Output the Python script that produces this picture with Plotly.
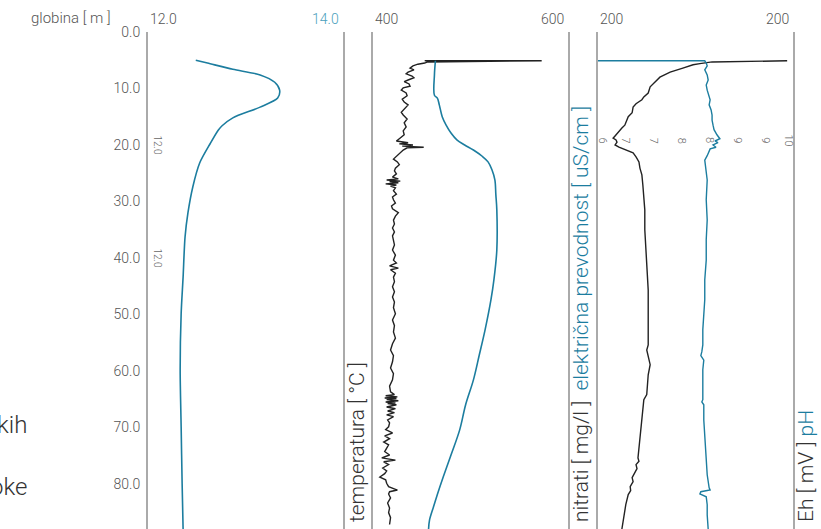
import numpy as np
import plotly.graph_objects as go

# ---------------- data ----------------
DEPTH_TICKS = [0, 10, 20, 30, 40, 50, 60, 70, 80]
DEPTH_RANGE = [88, 0]

# temperature profile [°C]
TEMP_RANGE = [12.0, 14.0]
TEMP_LABELS = ["12.0", "14.0"]
temp_depth = [5.0, 5.5, 6.6, 7.6, 8.9, 10.3, 11.7, 13.3, 15.2, 16.6, 17.4, 19.7, 23.2,
              27.4, 32.0, 36.3, 43.4, 49.9, 59.8, 69.9, 80.0, 88.0]
temp_value = [12.49, 12.61, 12.87, 13.15, 13.30, 13.35, 13.33, 13.15, 12.87, 12.76, 12.72,
              12.64, 12.53, 12.46, 12.41, 12.38, 12.36, 12.34, 12.33, 12.34, 12.35, 12.36]

# nitrate [mg/l] and conductivity [uS/cm]
MID_RANGE = [400, 600]
MID_LABELS = ["400", "600"]
nitrate_depth = [5.1, 5.0, 5.2, 5.1, 5.3, 5.5, 5.7, 6.0, 6.4, 6.7, 7.1, 7.4, 7.8, 8.1,
                 8.5, 8.8, 9.2, 9.6, 9.9, 10.3, 10.8, 11.3, 11.9, 12.4, 12.9, 13.5,
                 14.2, 14.7, 15.4, 16.1, 16.8, 17.5, 18.2, 18.9, 19.3, 19.6, 19.8,
                 20.0, 20.2, 20.4, 20.5, 20.9, 21.4, 22.0, 22.5, 23.0, 23.5, 24.1,
                 24.6, 25.1, 25.7, 26.0, 26.2, 26.4, 26.5, 26.7, 26.9, 27.1, 27.3,
                 27.6, 28.1, 28.7, 29.2, 29.7, 30.3, 30.8, 31.3, 32.0, 32.6, 33.3,
                 34.0, 34.7, 35.4, 36.1, 36.8, 37.7, 38.6, 39.5, 40.4, 40.9, 41.4,
                 41.8, 42.1, 42.7, 43.4, 44.2, 45.1, 46.0, 46.9, 47.8, 48.8, 49.9,
                 51.0, 52.0, 53.1, 54.2, 55.2, 56.3, 57.3, 58.4, 59.5, 60.5, 61.6,
                 62.7, 63.7, 64.2, 64.4, 64.6, 64.8, 64.9, 65.1, 65.3, 65.5, 65.7,
                 65.8, 66.0, 66.4, 66.7, 67.1, 67.4, 67.8, 68.1, 68.7, 69.2, 69.9,
                 70.4, 71.0, 71.5, 72.0, 72.6, 73.1, 73.6, 74.3, 74.9, 75.4, 75.8,
                 76.1, 76.6, 77.2, 77.7, 78.2, 78.8, 79.3, 79.9, 80.5, 81.1, 81.4,
                 81.8, 82.5, 83.4, 84.3, 85.1, 86.0, 87.2, 88.0]
nitrate_value = [453, 571, 458, 573, 456, 453, 446, 441, 438, 442, 436, 434, 440, 442,
                 436, 432, 437, 438, 431, 429, 434, 435, 430, 432, 436, 433,
                 429, 431, 435, 432, 434, 431, 432, 427, 424, 436, 427,
                 441, 430, 452, 435, 431, 428, 424, 421, 425, 427, 423,
                 422, 424, 420, 426, 414, 428, 417, 426, 413, 424, 418,
                 423, 421, 424, 420, 421, 423, 419, 420, 426, 423, 421,
                 422, 420, 422, 420, 421, 422, 420, 423, 421, 424, 417,
                 426, 418, 423, 421, 422, 420, 422, 420, 422, 421, 423,
                 420, 422, 421, 423, 420, 418, 421, 420, 418, 421, 420,
                 417, 418, 422, 413, 425, 412, 424, 414, 426, 413, 423,
                 415, 424, 414, 423, 415, 422, 414, 421, 415, 417, 416,
                 413, 420, 412, 417, 411, 416, 414, 412, 417, 409, 423,
                 411, 416, 410, 414, 412, 407, 413, 414, 416, 425, 417,
                 416, 418, 415, 417, 416, 418, 417]

cond_depth = [5.1, 7.6, 11.2, 11.7, 12.9, 15.0, 16.5, 17.9, 19.1, 20.0, 20.9, 22.0,
              23.0, 24.4, 26.2, 28.8, 31.5, 38.6, 43.9, 47.4, 52.7, 57.2, 61.6,
              66.0, 70.4, 74.9, 78.8, 81.9, 84.1, 86.4, 88.0]
cond_value = [464, 463, 463, 466, 468, 471, 475, 480, 486, 494, 503, 512,
              518, 522, 525, 526, 527, 527, 524, 521, 515, 509, 503,
              495, 489, 480, 472, 466, 462, 458, 457]

# redox potential [mV] and pH
EH_RANGE = [0, 400]
EH_LABELS = ["200", "200"]
eh_depth = [5.1, 5.2, 5.2, 5.3, 5.6, 5.8, 6.4, 7.1, 8.0, 8.5, 9.2, 9.7, 10.8, 11.5,
            12.0, 12.7, 13.3, 14.3, 15.0, 15.9, 16.5, 17.0, 17.9, 18.4, 18.8, 19.1,
            19.5, 20.0, 20.4, 20.9, 21.4, 22.1, 23.0, 24.1, 25.3, 27.1, 28.8, 31.5,
            35.0, 38.6, 42.1, 45.7, 49.2, 52.7, 55.4, 56.3, 57.7, 58.9, 60.7, 63.4,
            64.2, 65.1, 66.9, 68.7, 70.4, 73.1, 75.4, 76.0, 76.6, 77.3, 77.9, 78.4,
            78.9, 79.6, 80.5, 81.2, 81.9, 83.7, 85.5, 88.0]
eh_value = [388, 332, 271, 234, 209, 195, 174, 148, 127, 121, 111, 107, 103, 94,
            90, 78, 72, 70, 62, 57, 55, 49, 41, 35, 31, 37,
            39, 35, 43, 57, 72, 78, 84, 86, 90, 92, 94, 96,
            96, 98, 100, 103, 103, 103, 103, 100, 103, 107, 103, 100,
            100, 94, 92, 90, 88, 86, 82, 84, 78, 80, 76, 73,
            70, 72, 66, 67, 62, 57, 53, 49]

PH_RANGE = [6, 10]
ph_depth = [5.1, 5.1, 5.5, 6.0, 6.7, 7.6, 8.5, 9.4, 10.3, 11.2, 12.0, 12.9, 13.8,
            14.7, 15.6, 16.5, 17.3, 18.2, 18.9, 19.3, 19.6, 20.0, 20.4, 20.7, 21.2,
            21.9, 22.7, 24.4, 26.2, 29.7, 33.3, 36.8, 40.4, 43.9, 47.4, 52.7, 55.4,
            56.6, 57.3, 58.1, 59.8, 62.5, 65.1, 65.5, 66.0, 68.7, 72.2, 75.8, 78.4,
            80.7, 81.1, 81.4, 81.8, 82.3, 83.7, 85.5, 88.0]
ph_value = [6.00, 8.19, 8.22, 8.24, 8.19, 8.24, 8.26, 8.22, 8.24, 8.28, 8.30, 8.28, 8.32,
            8.34, 8.34, 8.36, 8.38, 8.44, 8.50, 8.40, 8.46, 8.36, 8.42, 8.30, 8.28,
            8.24, 8.19, 8.22, 8.24, 8.22, 8.24, 8.22, 8.22, 8.19, 8.19, 8.15, 8.15,
            8.13, 8.11, 8.17, 8.15, 8.15, 8.15, 8.13, 8.17, 8.17, 8.19, 8.22, 8.24,
            8.28, 8.30, 8.11, 8.09, 8.22, 8.24, 8.24, 8.26]
PH_TICKS = np.linspace(6, 10, 8)

# ---------------- styling ----------------
W, H = 821, 529
TEAL = "#1c7d9f"
TEAL_LIGHT = "#4b9fbc"
INK = "#222222"
GREY_TXT = "#555555"
RULE = "#aaaaaa"
FONT = "Roboto"


def px(v):
    return v / W


PANELS = [(148, 343), (373, 568), (598, 793)]

fig = go.Figure()
fig.add_trace(go.Scatter(x=temp_value, y=temp_depth, mode="lines", xaxis="x", yaxis="y",
                         line=dict(color=TEAL, width=1.6, shape="spline", smoothing=0.8),
                         hoverinfo="skip"))
fig.add_trace(go.Scatter(x=nitrate_value, y=nitrate_depth, mode="lines", xaxis="x2", yaxis="y2",
                         line=dict(color=INK, width=1.4), hoverinfo="skip"))
fig.add_trace(go.Scatter(x=cond_value, y=cond_depth, mode="lines", xaxis="x2", yaxis="y2",
                         line=dict(color=TEAL, width=1.6, shape="spline"), hoverinfo="skip"))
fig.add_trace(go.Scatter(x=eh_value, y=eh_depth, mode="lines", xaxis="x3", yaxis="y3",
                         line=dict(color=INK, width=1.4), hoverinfo="skip"))
fig.add_trace(go.Scatter(x=ph_value, y=ph_depth, mode="lines", xaxis="x4", yaxis="y3",
                         line=dict(color=TEAL, width=1.4), hoverinfo="skip"))

hidden_x = dict(showgrid=False, zeroline=False, showline=False, showticklabels=False, ticks="")
yframe = dict(range=DEPTH_RANGE, showline=True, mirror=True, linecolor=RULE, linewidth=2,
              showgrid=False, zeroline=False, domain=[0, 1])

fig.update_layout(
    width=W, height=H,
    margin=dict(l=0, r=0, t=32, b=0),
    paper_bgcolor="white", plot_bgcolor="white",
    showlegend=False,
    font=dict(family=FONT, color=GREY_TXT),
    xaxis=dict(domain=[px(PANELS[0][0]), px(PANELS[0][1])], range=TEMP_RANGE, anchor="y", **hidden_x),
    xaxis2=dict(domain=[px(PANELS[1][0]), px(PANELS[1][1])], range=MID_RANGE, anchor="y2", **hidden_x),
    xaxis3=dict(domain=[px(PANELS[2][0]), px(PANELS[2][1])], range=EH_RANGE, anchor="y3", **hidden_x),
    xaxis4=dict(domain=[px(PANELS[2][0]), px(PANELS[2][1])], range=PH_RANGE, anchor="y3",
                overlaying="x3", **hidden_x),
    yaxis=dict(anchor="x", tickvals=DEPTH_TICKS, ticktext=[f"{d:.1f}" for d in DEPTH_TICKS],
               ticks="outside", ticklen=3, tickcolor="rgba(0,0,0,0)",
               tickfont=dict(size=14, color=GREY_TXT, family=FONT, weight=300), **yframe),
    yaxis2=dict(anchor="x2", matches="y", showticklabels=False, **yframe),
    yaxis3=dict(anchor="x3", matches="y", showticklabels=False, **yframe),
)

ann = []
top_font = dict(size=14, family=FONT, weight=300)

# range labels above each panel
for xref, rng, labels, colors in [("x", TEMP_RANGE, TEMP_LABELS, [GREY_TXT, TEAL_LIGHT]),
                                  ("x2", MID_RANGE, MID_LABELS, [GREY_TXT, GREY_TXT]),
                                  ("x3", EH_RANGE, EH_LABELS, [GREY_TXT, GREY_TXT])]:
    ann.append(dict(x=rng[0], y=1, xref=xref, yref="paper", text=labels[0], showarrow=False,
                    xanchor="left", yanchor="bottom", yshift=3, xshift=0,
                    font=dict(color=colors[0], **top_font)))
    ann.append(dict(x=rng[1], y=1, xref=xref, yref="paper", text=labels[1], showarrow=False,
                    xanchor="right", yanchor="bottom", yshift=3, xshift=-2,
                    font=dict(color=colors[1], **top_font)))

ann.append(dict(x=px(113), y=1, xref="paper", yref="paper", text="globina [ m ]", showarrow=False,
                xanchor="right", yanchor="bottom", yshift=3,
                font=dict(size=15, color=GREY_TXT, family=FONT, weight=300)))

# small rotated scale marks
for d in [20, 40]:
    ann.append(dict(x=TEMP_RANGE[0], y=d, xref="x", yref="y", text="12.0", showarrow=False,
                    textangle=90, xanchor="left", xshift=2,
                    font=dict(size=10, color="#666666", family=FONT, weight=300)))
for v in PH_TICKS:
    ann.append(dict(x=v, y=19.2, xref="x4", yref="y3", text=f"{v:.0f}", showarrow=False,
                    textangle=90, xanchor="center",
                    xshift=5 if v == PH_TICKS[0] else (-4 if v == PH_TICKS[-1] else 0),
                    font=dict(size=11, color="#666666", family=FONT, weight=300)))

# vertical panel titles
title_font = dict(size=21, family=FONT, weight=300, color="#333333")
titles = [
    (357, "temperatura [ °C ]"),
    (581, f"nitrati [ mg/l ]  <span style='color:{TEAL}'>električna prevodnost [ uS/cm ]</span>"),
    (806, f"Eh [ mV ] <span style='color:{TEAL}'>pH</span>"),
]
for xc, txt in titles:
    ann.append(dict(x=px(xc), y=0, xref="paper", yref="paper", text=txt, showarrow=False,
                    textangle=-90, xanchor="center", yanchor="bottom", yshift=5,
                    font=title_font))

# side text at the left edge
for yc, txt, xr in [(425, "kih", 29), (487, "oke", 29)]:
    ann.append(dict(x=px(xr), y=1 - (yc - 32) / (H - 32), xref="paper", yref="paper", text=txt,
                    showarrow=False, xanchor="right", yanchor="middle",
                    font=dict(size=24, family=FONT, weight=300, color="#333333")))

fig.update_layout(annotations=ann)
fig.write_html("out.html")
